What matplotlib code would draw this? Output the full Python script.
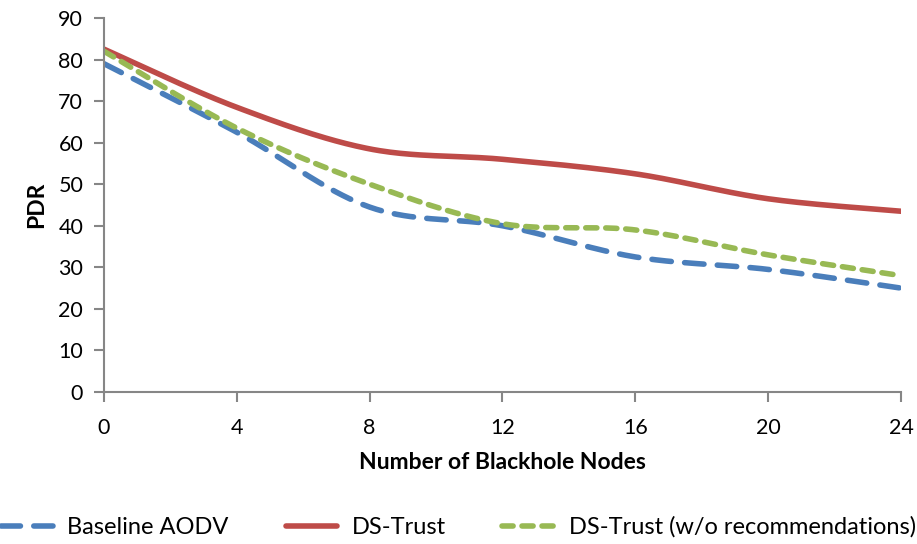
import numpy as np
import matplotlib.pyplot as plt

# Data
nodes = [0, 4, 8, 12, 16, 20, 24]
baseline_aodv = [79, 62.5, 44.5, 40, 32.5, 29.5, 25]
ds_trust = [82.5, 68.5, 58.5, 56, 52.5, 46.5, 43.5]
ds_trust_norec = [82, 63.5, 50, 40.5, 39, 33, 28]


def smooth(x, y, n=40):
    # Excel-style smoothed line (Catmull-Rom Bezier segments)
    x = np.asarray(x, float)
    y = np.asarray(y, float)
    px = np.concatenate([[x[0]], x, [x[-1]]])
    py = np.concatenate([[y[0]], y, [y[-1]]])
    t = np.linspace(0, 1, n)[:, None]
    xs, ys = [], []
    for i in range(1, len(px) - 2):
        p0 = np.array([px[i], py[i]])
        p3 = np.array([px[i + 1], py[i + 1]])
        p1 = p0 + (np.array([px[i + 1], py[i + 1]]) - np.array([px[i - 1], py[i - 1]])) / 6
        p2 = p3 - (np.array([px[i + 2], py[i + 2]]) - np.array([px[i], py[i]])) / 6
        b = ((1 - t) ** 3) * p0 + 3 * ((1 - t) ** 2) * t * p1 + 3 * (1 - t) * t ** 2 * p2 + t ** 3 * p3
        xs.append(b[:, 0])
        ys.append(b[:, 1])
    return np.concatenate(xs), np.concatenate(ys)


plt.rcParams['font.family'] = ['Lato', 'DejaVu Sans']

fig = plt.figure(figsize=(9.17, 5.44), dpi=100)
ax = fig.add_axes([104 / 917, 1 - 392 / 544, 797 / 917, 374 / 544])

sx, sy = smooth(nodes, baseline_aodv)
ax.plot(sx, sy, color='#4a7ebb', lw=4, ls=(0, (3.5, 2.4)), label='Baseline AODV',
        solid_capstyle='round', dash_capstyle='round')
sx, sy = smooth(nodes, ds_trust)
ax.plot(sx, sy, color='#be4b48', lw=4, label='DS-Trust', solid_capstyle='round')
sx, sy = smooth(nodes, ds_trust_norec)
ax.plot(sx, sy, color='#98b954', lw=4, ls=(0, (2, 1.6)), label='DS-Trust (w/o recommendations)',
        dash_capstyle='round')

ax.set_xlim(0, 24)
ax.set_ylim(0, 90)
ax.set_xticks(nodes)
ax.set_yticks(range(0, 91, 10))
ax.set_xlabel('Number of Blackhole Nodes', fontsize=16.5, fontweight='bold', labelpad=10)
ax.set_ylabel('PDR', fontsize=16.5, fontweight='bold', labelpad=8)

for s in ['top', 'right']:
    ax.spines[s].set_visible(False)
for s in ['left', 'bottom']:
    ax.spines[s].set_color('#868686')
    ax.spines[s].set_linewidth(1.5)
ax.tick_params(colors='#868686', labelcolor='black', labelsize=15.5, length=7, width=1.5)
ax.tick_params(axis='x', pad=12)
ax.tick_params(axis='y', pad=8)

fig.legend(loc='lower center', bbox_to_anchor=(0.5, -0.028), ncol=3, frameon=False,
           fontsize=17, handlelength=2.2, handletextpad=0.6, columnspacing=2.4)

fig.savefig('out.png', dpi=100)
